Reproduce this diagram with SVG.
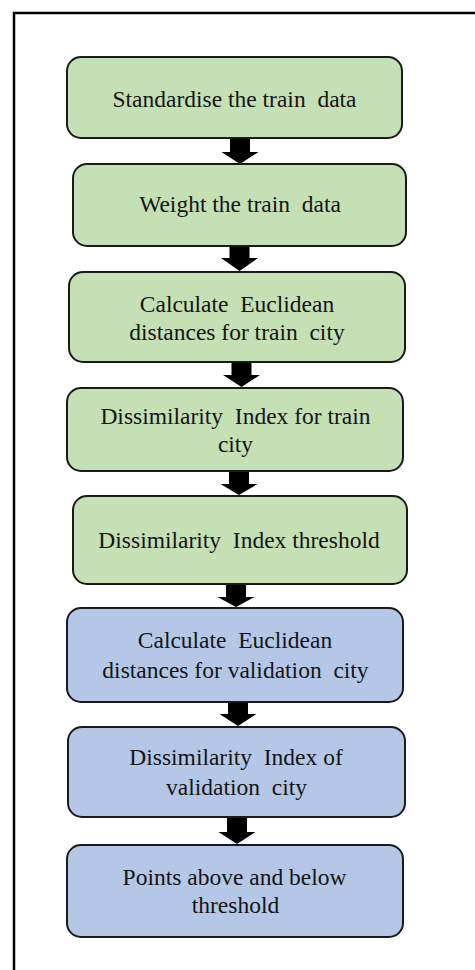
<svg xmlns="http://www.w3.org/2000/svg" width="475" height="970" viewBox="0 0 475 970">
  <style>
    .box { stroke: #1a1a1a; stroke-width: 2; }
    .train { fill: #c5e0b4; }
    .valid { fill: #b4c7e7; }
    .label { font-family: 'Liberation Serif', 'Times New Roman', serif; font-size: 23.5px; fill: #151515; text-anchor: middle; white-space: pre; }
    .arrow { fill: #000000; }
  </style>
  <rect x="0" y="0" width="475" height="970" fill="#ffffff"/>
  <!-- outer frame -->
  <path d="M14 970 V13 H475" fill="none" stroke="#000000" stroke-width="2.5"/>

  <g id="connectors">
    <polygon class="arrow" points="230,139 250,139 250,152 258.5,152 240,164 221.5,152 230,152"/>
    <polygon class="arrow" points="229.5,247 249.5,247 249.5,258 258,258 239.5,271 221,258 229.5,258"/>
    <polygon class="arrow" points="231.5,363 251.5,363 251.5,375 260,375 241.5,387 223,375 231.5,375"/>
    <polygon class="arrow" points="229,472 249,472 249,484 257.5,484 239,495 220.5,484 229,484"/>
    <polygon class="arrow" points="226,585 246,585 246,597 254.5,597 236,607 217.5,597 226,597"/>
    <polygon class="arrow" points="228,703 248,703 248,714 256.5,714 238,726 219.5,714 228,714"/>
    <polygon class="arrow" points="227,818 247,818 247,832 255.5,832 237,844 218.5,832 227,832"/>
  </g>

  <g id="standardise">
    <rect class="box train" x="67" y="57" width="335" height="81" rx="14"/>
    <text class="label" x="234.5" y="107">Standardise the train  data</text>
  </g>
  <g id="weight">
    <rect class="box train" x="73" y="164" width="333" height="82" rx="14"/>
    <text class="label" x="240" y="212">Weight the train  data</text>
  </g>
  <g id="euclid-train">
    <rect class="box train" x="69" y="272" width="336" height="90" rx="14"/>
    <text class="label" x="237" y="312">Calculate  Euclidean</text>
    <text class="label" x="237" y="340">distances for train  city</text>
  </g>
  <g id="di-train">
    <rect class="box train" x="67" y="388" width="336" height="83" rx="14"/>
    <text class="label" x="235.5" y="424">Dissimilarity  Index for train</text>
    <text class="label" x="235.5" y="452">city</text>
  </g>
  <g id="di-threshold">
    <rect class="box train" x="73" y="496" width="334" height="88" rx="14"/>
    <text class="label" x="239" y="548">Dissimilarity  Index threshold</text>
  </g>
  <g id="euclid-valid">
    <rect class="box valid" x="67" y="608" width="336" height="94" rx="14"/>
    <text class="label" x="235" y="648">Calculate  Euclidean</text>
    <text class="label" x="235.5" y="678">distances for validation  city</text>
  </g>
  <g id="di-valid">
    <rect class="box valid" x="68" y="727" width="337" height="90" rx="14"/>
    <text class="label" x="236" y="765">Dissimilarity  Index of</text>
    <text class="label" x="236.5" y="795">validation  city</text>
  </g>
  <g id="points">
    <rect class="box valid" x="67" y="845" width="336" height="92" rx="14"/>
    <text class="label" x="234.5" y="885">Points above and below</text>
    <text class="label" x="235.5" y="913">threshold</text>
  </g>
</svg>
